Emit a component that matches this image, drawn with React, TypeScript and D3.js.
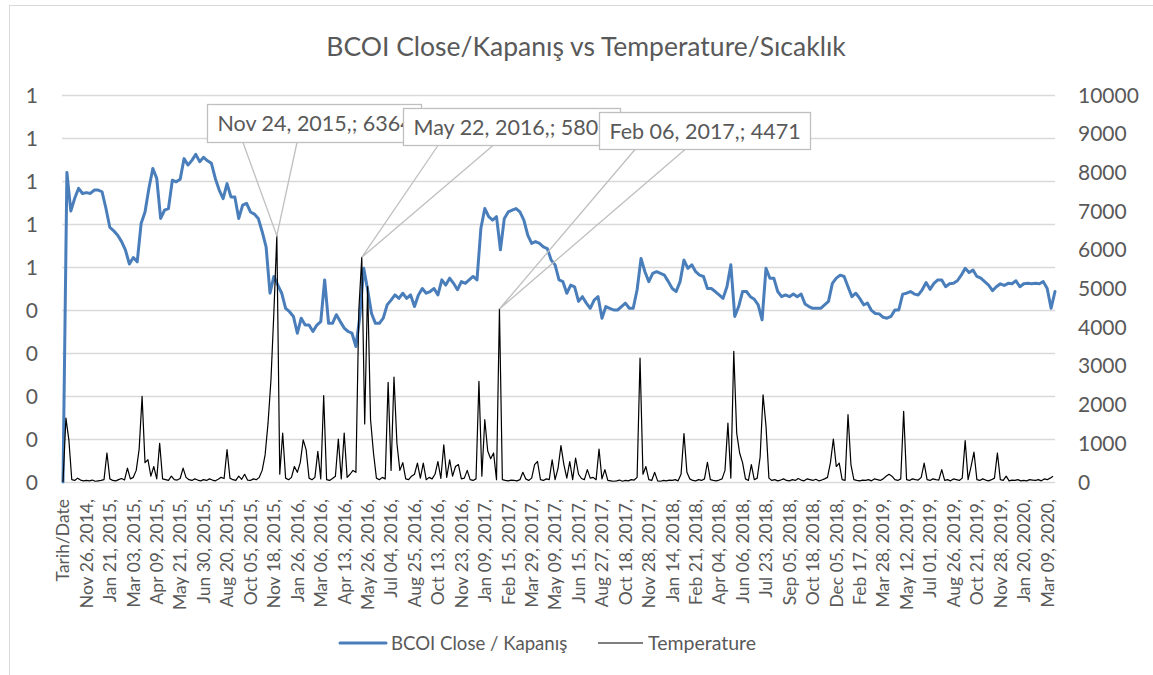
import { useEffect, useRef } from "react";
import * as d3 from "d3";

const TITLE = "BCOI Close/Kapanış vs Temperature/Sıcaklık";
const SERIES_NAMES = ["BCOI Close / Kapanış", "Temperature"];

// one label every 6 closes / every 8 temperature readings
const BCOI_PER_LABEL = 6;
const TEMP_PER_LABEL = 8;

const DATE_LABELS = [
  "Tarih/Date", "Nov 26, 2014,", "Jan 21, 2015,", "Mar 03, 2015,", "Apr 09, 2015,", "May 21, 2015,",
  "Jun 30, 2015,", "Aug 20, 2015,", "Oct 05, 2015,", "Nov 18, 2015,", "Jan 26, 2016,", "Mar 06, 2016,",
  "Apr 13, 2016,", "May 26, 2016,", "Jul 04, 2016,", "Aug 25, 2016,", "Oct 13, 2016,", "Nov 23, 2016,",
  "Jan 09, 2017,", "Feb 15, 2017,", "Mar 29, 2017,", "May 09, 2017,", "Jun 15, 2017,", "Aug 27, 2017,",
  "Oct 18, 2017,", "Nov 28, 2017,", "Jan 14, 2018,", "Feb 21, 2018,", "Apr 04, 2018,", "Jun 06, 2018,",
  "Jul 23, 2018,", "Sep 05, 2018,", "Oct 18, 2018,", "Dec 05, 2018,", "Feb 17, 2019,", "Mar 28, 2019,",
  "May 12, 2019,", "Jul 01, 2019,", "Aug 26, 2019,", "Oct 21, 2019,", "Nov 28, 2019,", "Jan 20, 2020,",
  "Mar 09, 2020,",
];

const BCOI_CLOSE = [
  0, 0.72, 0.63, 0.66, 0.683, 0.671,
  0.673, 0.671, 0.679, 0.679, 0.675, 0.636,
  0.592, 0.584, 0.574, 0.559, 0.539, 0.507,
  0.522, 0.512, 0.601, 0.628, 0.683, 0.729,
  0.706, 0.613, 0.632, 0.636, 0.702, 0.698,
  0.704, 0.752, 0.737, 0.748, 0.762, 0.745,
  0.755, 0.747, 0.741, 0.706, 0.679, 0.659,
  0.694, 0.663, 0.663, 0.613, 0.644, 0.648,
  0.628, 0.623, 0.613, 0.582, 0.547, 0.439,
  0.478, 0.458, 0.439, 0.404, 0.396, 0.385,
  0.346, 0.381, 0.365, 0.365, 0.35, 0.365,
  0.373, 0.47, 0.369, 0.369, 0.389, 0.373,
  0.358, 0.35, 0.346, 0.315, 0.385, 0.497,
  0.447, 0.392, 0.369, 0.369, 0.381, 0.412,
  0.423, 0.435, 0.427, 0.439, 0.427, 0.435,
  0.408, 0.435, 0.45, 0.439, 0.443, 0.45,
  0.435, 0.47, 0.458, 0.474, 0.462, 0.447,
  0.466, 0.462, 0.47, 0.478, 0.47, 0.59,
  0.636, 0.617, 0.609, 0.617, 0.54, 0.613,
  0.628, 0.632, 0.636, 0.628, 0.609, 0.574,
  0.555, 0.559, 0.555, 0.547, 0.543, 0.516,
  0.505, 0.47, 0.466, 0.439, 0.458, 0.454,
  0.42, 0.431, 0.416, 0.404, 0.423, 0.431,
  0.381, 0.408, 0.404, 0.4, 0.4, 0.408,
  0.416, 0.404, 0.404, 0.447, 0.52, 0.489,
  0.466, 0.485, 0.489, 0.485, 0.481, 0.466,
  0.45, 0.443, 0.466, 0.516, 0.497, 0.505,
  0.489, 0.481, 0.478, 0.45, 0.45, 0.443,
  0.435, 0.427, 0.454, 0.505, 0.385, 0.408,
  0.443, 0.443, 0.431, 0.425, 0.412, 0.377,
  0.497, 0.474, 0.474, 0.443, 0.431, 0.435,
  0.431, 0.437, 0.431, 0.437, 0.414, 0.408,
  0.404, 0.404, 0.404, 0.412, 0.42, 0.462,
  0.474, 0.481, 0.478, 0.454, 0.431, 0.439,
  0.427, 0.412, 0.416, 0.399, 0.392, 0.391,
  0.383, 0.381, 0.385, 0.4, 0.4, 0.437,
  0.439, 0.443, 0.437, 0.435, 0.447, 0.464,
  0.448, 0.462, 0.47, 0.47, 0.454, 0.461,
  0.462, 0.468, 0.481, 0.497, 0.487, 0.493,
  0.478, 0.474, 0.466, 0.458, 0.445, 0.454,
  0.461, 0.457, 0.462, 0.461, 0.468, 0.454,
  0.461, 0.462, 0.461, 0.462, 0.461, 0.466,
  0.45, 0.404, 0.443,
];

const TEMPERATURE = [
  0, 1650, 1090, 60, 40, 100, 50, 30,
  40, 30, 50, 20, 30, 40, 60, 750,
  80, 40, 30, 60, 90, 50, 360, 80,
  120, 300, 850, 2210, 500, 575, 150, 400,
  80, 1000, 80, 60, 40, 150, 60, 50,
  90, 360, 120, 60, 40, 80, 50, 30,
  60, 40, 80, 50, 30, 70, 120, 90,
  835, 100, 60, 40, 150, 70, 200, 50,
  40, 80, 60, 120, 300, 700, 1520, 2640,
  4400, 6364, 200, 1265, 100, 60, 120, 400,
  250, 500, 1090, 835, 100, 60, 120, 790,
  80, 2230, 60, 40, 90, 150, 1110, 80,
  1265, 120, 200, 300, 250, 4450, 5805, 1500,
  5050, 1610, 750, 100, 60, 120, 80, 2575,
  300, 2710, 1000, 300, 500, 80, 60, 150,
  200, 490, 100, 490, 60, 120, 80, 200,
  530, 90, 960, 120, 575, 150, 400, 450,
  80, 100, 300, 60, 40, 80, 2600, 150,
  1610, 800, 600, 750, 60, 4471, 60, 40,
  30, 50, 40, 30, 60, 250, 80, 40,
  100, 450, 530, 60, 40, 80, 60, 575,
  60, 350, 940, 450, 100, 530, 60, 620,
  200, 90, 60, 320, 100, 120, 60, 850,
  80, 320, 40, 30, 20, 30, 50, 20,
  40, 30, 60, 50, 120, 3200, 200, 400,
  60, 40, 250, 30, 20, 40, 30, 50,
  40, 60, 30, 200, 1250, 250, 80, 40,
  30, 60, 40, 80, 510, 60, 40, 30,
  50, 80, 300, 1520, 100, 3375, 1265, 750,
  500, 80, 40, 450, 60, 100, 650, 2255,
  1450, 100, 40, 60, 30, 50, 80, 40,
  30, 60, 40, 90, 50, 30, 80, 60,
  40, 70, 30, 50, 80, 120, 500, 1110,
  400, 490, 60, 40, 1740, 450, 60, 40,
  30, 50, 40, 60, 30, 80, 60, 40,
  80, 150, 200, 150, 60, 40, 80, 1825,
  60, 40, 80, 60, 50, 120, 490, 60,
  40, 80, 60, 50, 320, 40, 60, 30,
  80, 60, 40, 100, 1070, 60, 400, 775,
  60, 40, 80, 50, 30, 60, 100, 750,
  60, 40, 150, 30, 50, 40, 60, 30,
  40, 30, 60, 50, 40, 60, 30, 80,
  60, 100, 150,
];

const LEFT_TICKS = [0, 0.1, 0.2, 0.3, 0.4, 0.5, 0.6, 0.7, 0.8, 0.9];
const RIGHT_TICKS = [0, 1000, 2000, 3000, 4000, 5000, 6000, 7000, 8000, 9000, 10000];

// data callouts on the temperature series (index into TEMPERATURE)
const CALLOUT_INDEX = [73, 102, 149];
const CALLOUT_TEXT = ["Nov 24, 2015,; 6364", "May 22, 2016,; 5805", "Feb 06, 2017,; 4471"];

const WIDTH = 1153;
const HEIGHT = 675;
const FONT = "Lato, 'Open Sans', sans-serif";
const TEXT = "#595959";
const GRID = "#d9d9d9";
const BLUE = "#4a7ebb";

export default function App() {
  const svgRef = useRef<SVGSVGElement>(null);

  useEffect(() => {
    if (!svgRef.current) return;
    const svg = d3.select(svgRef.current);
    svg.selectAll("*").remove();

    const plot = { left: 62, right: 1055, top: 95, bottom: 482 };

    const x = d3.scaleLinear()
      .domain([0, (BCOI_CLOSE.length - 1) / BCOI_PER_LABEL])
      .range([63, plot.right]);
    const yLeft = d3.scaleLinear().domain([0, 0.9]).range([plot.bottom, plot.top]);
    const yRight = d3.scaleLinear().domain([0, 10000]).range([plot.bottom, plot.top]);

    svg.append("rect")
      .attr("width", WIDTH).attr("height", HEIGHT).attr("fill", "#fff");

    // chart area border
    svg.append("rect")
      .attr("x", 9.5).attr("y", 5.5)
      .attr("width", WIDTH + 20).attr("height", HEIGHT + 20)
      .attr("fill", "none").attr("stroke", GRID);

    svg.append("text")
      .attr("x", 586).attr("y", 56)
      .attr("text-anchor", "middle")
      .attr("font-family", FONT).attr("font-size", 26.5)
      .attr("fill", TEXT)
      .text(TITLE);

    // gridlines (left axis)
    svg.append("g")
      .selectAll("line")
      .data(LEFT_TICKS)
      .join("line")
      .attr("x1", plot.left).attr("x2", plot.right)
      .attr("y1", (d) => Math.round(yLeft(d)) + 0.5)
      .attr("y2", (d) => Math.round(yLeft(d)) + 0.5)
      .attr("stroke", GRID).attr("stroke-width", 1.3);

    // left axis labels
    svg.append("g")
      .selectAll("text")
      .data(LEFT_TICKS)
      .join("text")
      .attr("x", 38).attr("y", (d) => yLeft(d))
      .attr("dy", "0.36em")
      .attr("text-anchor", "end")
      .attr("font-family", FONT).attr("font-size", 21)
      .attr("fill", TEXT)
      .text((d) => String(Math.round(d)));

    // right axis labels
    svg.append("g")
      .selectAll("text")
      .data(RIGHT_TICKS)
      .join("text")
      .attr("x", 1078).attr("y", (d) => yRight(d))
      .attr("dy", "0.36em")
      .attr("text-anchor", "start")
      .attr("font-family", FONT).attr("font-size", 21)
      .attr("fill", TEXT)
      .text((d) => String(d));

    // category labels
    svg.append("g")
      .selectAll("text")
      .data(DATE_LABELS)
      .join("text")
      .attr("transform", (_, i) => `translate(${x(i)},499) rotate(-90)`)
      .attr("dy", "0.36em")
      .attr("text-anchor", "end")
      .attr("font-family", FONT).attr("font-size", 17.5)
      .attr("fill", TEXT)
      .text((d) => d);

    const bcoiLine = d3.line<number>()
      .x((_, i) => x(i / BCOI_PER_LABEL))
      .y((d) => yLeft(d));

    svg.append("path")
      .datum(BCOI_CLOSE)
      .attr("fill", "none")
      .attr("stroke", BLUE)
      .attr("stroke-width", 3)
      .attr("stroke-linejoin", "round")
      .attr("stroke-linecap", "round")
      .attr("d", bcoiLine);

    const tempLine = d3.line<number>()
      .x((_, i) => x(i / TEMP_PER_LABEL))
      .y((d) => yRight(d));

    svg.append("path")
      .datum(TEMPERATURE)
      .attr("fill", "none")
      .attr("stroke", "#000")
      .attr("stroke-width", 1.2)
      .attr("stroke-linejoin", "round")
      .attr("d", tempLine);

    // callout boxes, drawn in order so each covers the previous one
    const boxes = [
      { x: 207.5, y: 104.5, w: 214, h: 38, b1: 243, b2: 297 },
      { x: 403.5, y: 108.5, w: 217, h: 37, b1: 438, b2: 493 },
      { x: 599.5, y: 112.5, w: 211, h: 37, b1: 635, b2: 685 },
    ];
    CALLOUT_INDEX.forEach((idx, k) => {
      const b = boxes[k];
      const px = x(idx / TEMP_PER_LABEL);
      const py = yRight(TEMPERATURE[idx]);
      const g = svg.append("g");
      g.append("path")
        .attr("d", `M${b.b1},${b.y + b.h} L${px},${py} L${b.b2},${b.y + b.h}`)
        .attr("fill", "none")
        .attr("stroke", "#bfbfbf")
        .attr("stroke-width", 1.3);
      g.append("rect")
        .attr("x", b.x).attr("y", b.y)
        .attr("width", b.w).attr("height", b.h)
        .attr("fill", "#fff")
        .attr("stroke", "#bfbfbf")
        .attr("stroke-width", 1.3);
      g.append("text")
        .attr("x", b.x + 10).attr("y", b.y + b.h / 2)
        .attr("dy", "0.36em")
        .attr("font-family", FONT).attr("font-size", 21.5)
        .attr("fill", TEXT)
        .text(CALLOUT_TEXT[k]);
    });

    // legend
    const legend = svg.append("g");
    legend.append("line")
      .attr("x1", 340).attr("x2", 386).attr("y1", 643).attr("y2", 643)
      .attr("stroke", BLUE).attr("stroke-width", 3).attr("stroke-linecap", "round");
    legend.append("text")
      .attr("x", 391).attr("y", 643).attr("dy", "0.36em")
      .attr("font-family", FONT).attr("font-size", 18.6)
      .attr("fill", TEXT)
      .text(SERIES_NAMES[0]);
    legend.append("line")
      .attr("x1", 598).attr("x2", 643).attr("y1", 643).attr("y2", 643)
      .attr("stroke", "#000").attr("stroke-width", 1.2);
    legend.append("text")
      .attr("x", 648).attr("y", 643).attr("dy", "0.36em")
      .attr("font-family", FONT).attr("font-size", 19.5)
      .attr("fill", TEXT)
      .text(SERIES_NAMES[1]);
  }, []);

  return (
    <svg
      ref={svgRef}
      width={WIDTH}
      height={HEIGHT}
      style={{ position: "absolute", left: 0, top: 0, display: "block" }}
    />
  );
}
